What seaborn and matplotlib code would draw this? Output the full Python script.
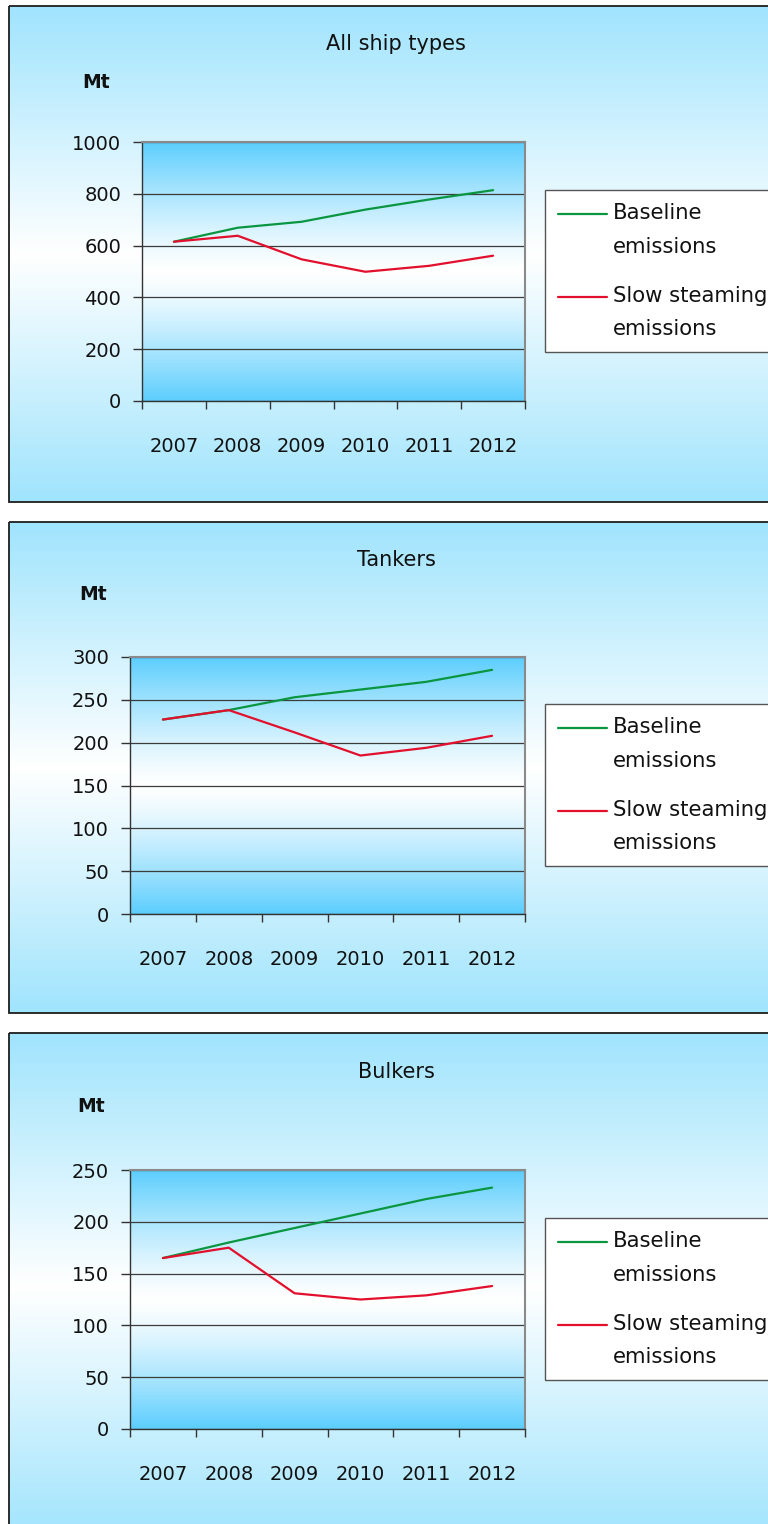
import numpy as np
import pandas as pd
import matplotlib
matplotlib.use("Agg")
import matplotlib.pyplot as plt
import seaborn as sns
from matplotlib.patches import Rectangle
from matplotlib.lines import Line2D
from matplotlib.legend_handler import HandlerLine2D

# ---- data (Mt CO2) ----
years = ["2007", "2008", "2009", "2010", "2011", "2012"]
series_names = ["Baseline\nemissions", "Slow steaming\nemissions"]

all_baseline = [615, 669, 692, 739, 778, 814]
all_slow = [615, 638, 547, 499, 522, 561]

tank_baseline = [227, 238, 253, 262, 271, 285]
tank_slow = [227, 238, 212, 185, 194, 208]

bulk_baseline = [165, 180, 194, 208, 222, 233]
bulk_slow = [165, 175, 131, 125, 129, 138]

titles = ["All ship types", "Tankers", "Bulkers"]
y_max = [1000, 300, 250]
y_step = [200, 50, 50]

sns.set_style("white")
plt.rcParams["font.family"] = ["DejaVu Sans"]

W, H = 768, 1524
fig = plt.figure(figsize=(W / 100, H / 100), dpi=100, facecolor="white")

GREEN = "#0a9640"
RED = "#e2102c"
PANEL_BLUE = np.array([160, 228, 253]) / 255
PLOT_BLUE = np.array([92, 206, 253]) / 255


def band_gradient(edge, power=1.0, n=256):
    """Vertical gradient: edge colour at top and bottom, white in the middle."""
    t = np.abs(np.linspace(-1, 1, n)) ** power
    white = np.ones(3)
    rgb = white[None, :] + (edge[None, :] - white[None, :]) * t[:, None]
    return rgb[:, None, :]


# background canvas in pixel coordinates
bg = fig.add_axes([0, 0, 1, 1], zorder=0)
bg.set_xlim(0, W)
bg.set_ylim(H, 0)
bg.axis("off")

panels = [(6, 502), (522, 1013), (1033, 1540)]
plot_boxes = [  # left, right, top, bottom (pixels)
    (142, 525, 142, 401),
    (130, 525, 657, 914),
    (130, 525, 1170, 1429),
]
title_y = [44, 560, 1072]
mt_pos = [(96, 82), (93, 594), (91, 1107)]
legend_top = [190, 704, 1218]

data_sets = [
    (all_baseline, all_slow),
    (tank_baseline, tank_slow),
    (bulk_baseline, bulk_slow),
]


class FirstLineHandler(HandlerLine2D):
    """Legend line aligned with the first line of a two-line label."""

    def __init__(self, shift, **kw):
        super().__init__(**kw)
        self.shift = shift

    def create_artists(self, legend, orig_handle, xdescent, ydescent,
                       width, height, fontsize, trans):
        arts = super().create_artists(legend, orig_handle, xdescent, ydescent,
                                      width, height, fontsize, trans)
        for a in arts:
            a.set_ydata(np.asarray(a.get_ydata()) + self.shift)
        return arts


LEG_FS = 15.2
LEG_LS = 1.84

for i, ((p_top, p_bot), (l, r, t, b)) in enumerate(zip(panels, plot_boxes)):
    # panel background + border
    bg.imshow(band_gradient(PANEL_BLUE, 1.0), extent=[9, 800, p_bot, p_top],
              aspect="auto", zorder=0, interpolation="bilinear")
    bg.add_patch(Rectangle((9, p_top), 800, p_bot - p_top, fill=False,
                           edgecolor="#1e1e1e", lw=1.3, zorder=2))
    # plot-area background
    bg.imshow(band_gradient(PLOT_BLUE, 1.3), extent=[l, r, b, t],
              aspect="auto", zorder=1, interpolation="bilinear")

    # titles
    bg.text(396, title_y[i], titles[i], ha="center", va="center",
            fontsize=15, color="#111111", zorder=3)
    bg.text(mt_pos[i][0], mt_pos[i][1], "Mt", ha="center", va="center",
            fontsize=13.5, fontweight="bold", color="#111111", zorder=3)

    base, slow = data_sets[i]
    df = pd.DataFrame({
        "pos": list(range(len(years))) * 2,
        "value": list(base) + list(slow),
        "series": [series_names[0]] * len(years) + [series_names[1]] * len(years),
    })

    ax = fig.add_axes([l / W, 1 - b / H, (r - l) / W, (b - t) / H], zorder=2)
    ax.set_facecolor("none")
    sns.lineplot(data=df, x="pos", y="value", hue="series",
                 hue_order=series_names, palette=[GREEN, RED],
                 linewidth=1.6, errorbar=None, legend=False, ax=ax)

    ax.set_xlim(-0.5, len(years) - 0.5)
    ax.set_ylim(0, y_max[i])
    ax.set_xlabel("")
    ax.set_ylabel("")

    ax.set_xticks(np.arange(-0.5, len(years), 1.0))
    ax.set_xticklabels([])
    ax.set_xticks(range(len(years)), minor=True)
    ax.set_xticklabels(years, minor=True)
    ax.tick_params(axis="x", which="major", direction="out", length=6,
                   width=1, color="#333333", bottom=True)
    ax.tick_params(axis="x", which="minor", length=0, pad=26, labelsize=14,
                   labelcolor="#111111")

    ax.set_yticks(np.arange(0, y_max[i] + 1, y_step[i]))
    ax.tick_params(axis="y", direction="out", length=6.5, width=1,
                   color="#333333", left=True, pad=8.5, labelsize=14,
                   labelcolor="#111111")

    ax.yaxis.grid(True, color="#3c3c3c", linewidth=0.9)
    ax.xaxis.grid(False)
    ax.set_axisbelow(True)

    for side in ("top", "right"):
        ax.spines[side].set_color("#8a8a8a")
        ax.spines[side].set_linewidth(1.5)
    for side in ("left", "bottom"):
        ax.spines[side].set_color("#333333")
        ax.spines[side].set_linewidth(1.0)

    handles = ax.get_lines()[:2]
    shift = 0.5 * 0.85 * LEG_FS * LEG_LS
    leg = ax.legend(handles, series_names, loc="upper left",
                    bbox_to_anchor=(545 / W, 1 - legend_top[i] / H),
                    bbox_transform=fig.transFigure, borderaxespad=0,
                    frameon=True, fancybox=False, framealpha=1,
                    facecolor="white", edgecolor="#555555",
                    fontsize=LEG_FS, handlelength=2.3, handletextpad=0.3,
                    borderpad=0.62, labelspacing=1.39,
                    handler_map={Line2D: FirstLineHandler(shift)})
    leg.get_frame().set_linewidth(1.0)
    for txt in leg.get_texts():
        txt.set_linespacing(LEG_LS)
        txt.set_color("#111111")

fig.savefig("out.png", dpi=100, facecolor="white")
